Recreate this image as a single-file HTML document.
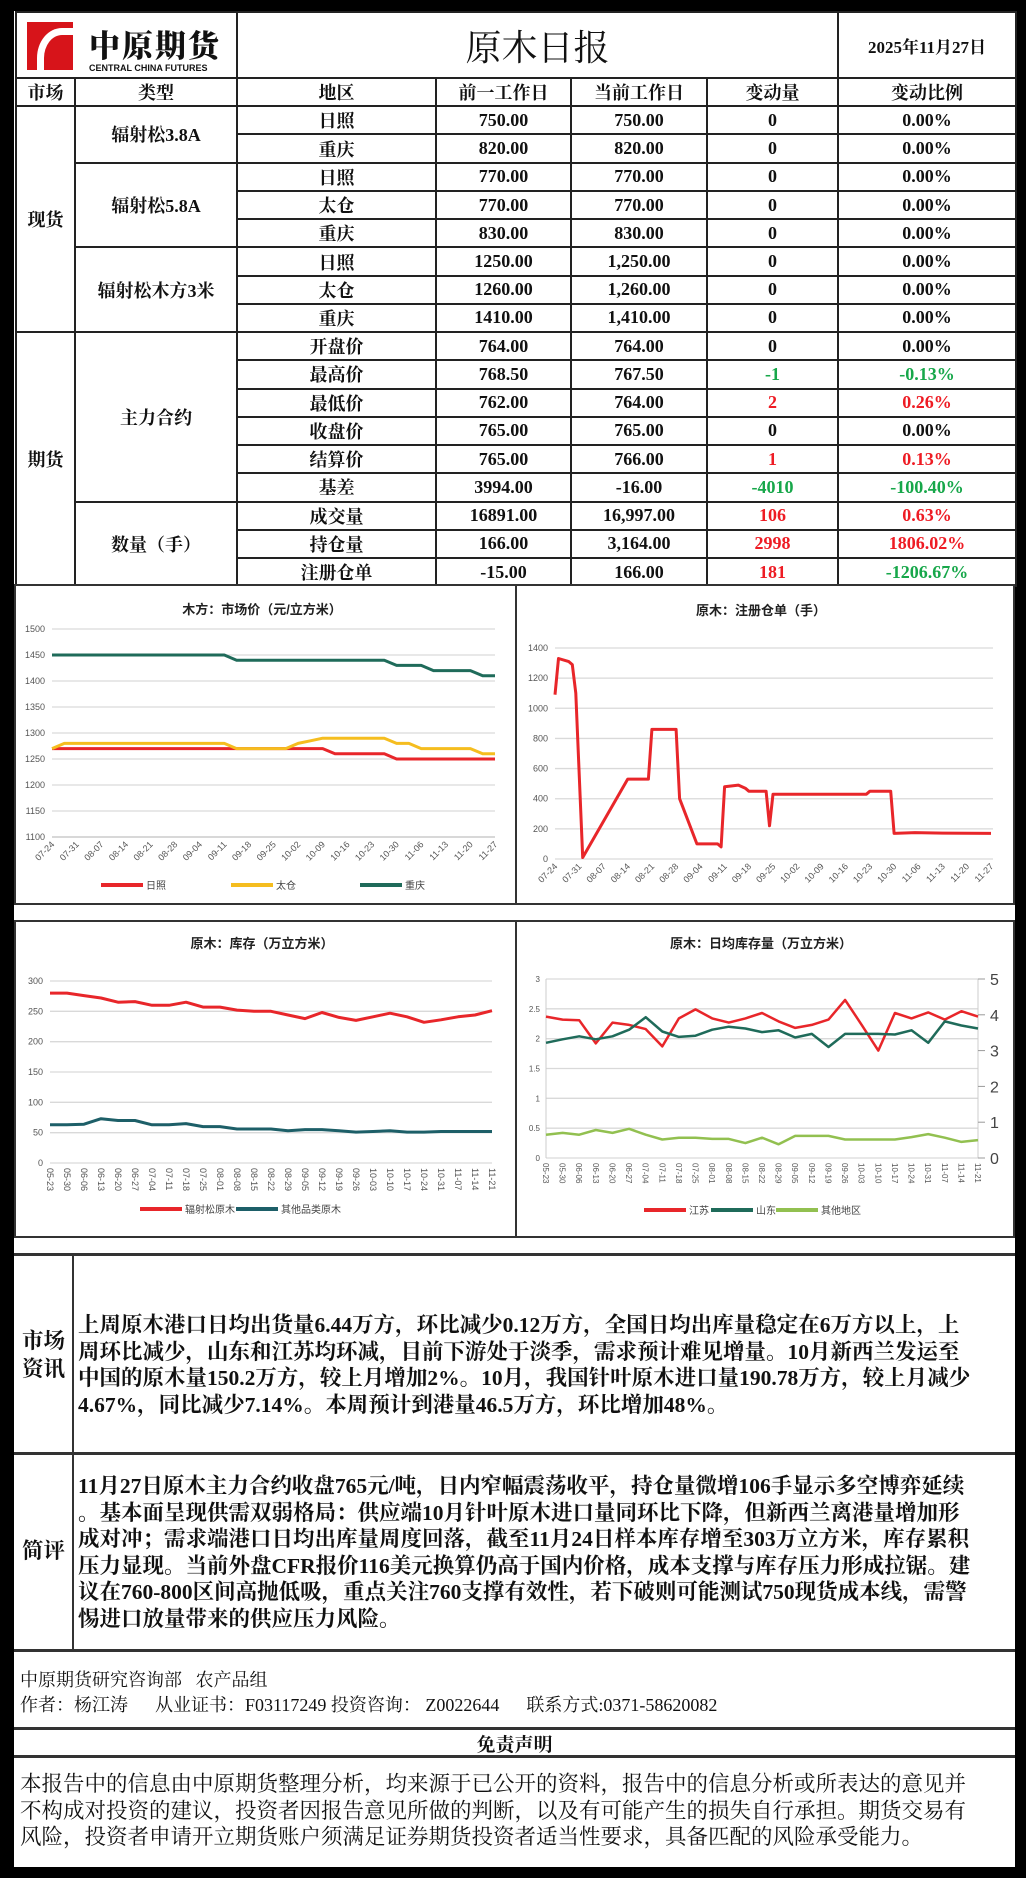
<!DOCTYPE html>
<html><head><meta charset="utf-8">
<style>
*{box-sizing:border-box;margin:0;padding:0}
body{width:1026px;height:1878px;background:#000;position:relative;overflow:hidden;font-family:"Liberation Serif","Noto Serif CJK SC",serif;color:#111}
.abs{position:absolute}
#page{position:absolute;left:14px;top:11px;width:1001px;height:1856px;background:#fff}
table.t{position:absolute;left:15px;top:11px;border-collapse:collapse;table-layout:fixed;width:1000px}
table.t td{border:2px solid #222;text-align:center;font-size:18px;font-weight:bold;height:28.24px;padding:0;white-space:nowrap}
.g{color:#17a74a}.r{color:#ee1c24}
.box{position:absolute;border:2px solid #333;background:#fff}
.txt{font-size:21.5px;line-height:26.5px;white-space:nowrap;font-weight:bold}
.hl{position:absolute;left:14px;width:1001px;height:3px;background:#333}
</style></head><body>
<div id="page"></div>
<table class="t">
<colgroup><col style="width:59px"><col style="width:162px"><col style="width:199px"><col style="width:135px"><col style="width:136px"><col style="width:131px"><col style="width:178px"></colgroup>
<tr style="height:66px"><td colspan="2" style="position:relative">
<div class="abs" style="left:10px;top:9px;width:46px;height:48px;background:#d7141a;overflow:hidden"><div class="abs" style="left:10px;top:6px;width:50px;height:60px;border:7px solid #fff;border-radius:50% 0 0 0;border-right:none;border-bottom:none"></div></div>
<div class="abs" style="left:72px;top:8px;font-size:31px;font-weight:900;letter-spacing:2px;font-family:'Noto Serif CJK SC',serif">中原期货</div>
<div class="abs" style="left:72px;top:50px;font-size:9px;font-weight:bold;font-family:'Liberation Sans',sans-serif">CENTRAL CHINA FUTURES</div>
</td>
<td colspan="4" style="font-size:36px;font-weight:normal">原木日报</td>
<td style="font-size:17px">2025年11月27日</td></tr>
<tr style="height:26px"><td>市场</td><td>类型</td><td>地区</td><td>前一工作日</td><td>当前工作日</td><td>变动量</td><td>变动比例</td></tr>
<tr><td rowspan="8">现货</td><td rowspan="2">辐射松3.8A</td><td>日照</td><td>750.00</td><td>750.00</td><td>0</td><td>0.00%</td></tr>
<tr><td>重庆</td><td>820.00</td><td>820.00</td><td>0</td><td>0.00%</td></tr>
<tr><td rowspan="3">辐射松5.8A</td><td>日照</td><td>770.00</td><td>770.00</td><td>0</td><td>0.00%</td></tr>
<tr><td>太仓</td><td>770.00</td><td>770.00</td><td>0</td><td>0.00%</td></tr>
<tr><td>重庆</td><td>830.00</td><td>830.00</td><td>0</td><td>0.00%</td></tr>
<tr><td rowspan="3">辐射松木方3米</td><td>日照</td><td>1250.00</td><td>1,250.00</td><td>0</td><td>0.00%</td></tr>
<tr><td>太仓</td><td>1260.00</td><td>1,260.00</td><td>0</td><td>0.00%</td></tr>
<tr><td>重庆</td><td>1410.00</td><td>1,410.00</td><td>0</td><td>0.00%</td></tr>
<tr><td rowspan="9">期货</td><td rowspan="6">主力合约</td><td>开盘价</td><td>764.00</td><td>764.00</td><td>0</td><td>0.00%</td></tr>
<tr><td>最高价</td><td>768.50</td><td>767.50</td><td class="g">-1</td><td class="g">-0.13%</td></tr>
<tr><td>最低价</td><td>762.00</td><td>764.00</td><td class="r">2</td><td class="r">0.26%</td></tr>
<tr><td>收盘价</td><td>765.00</td><td>765.00</td><td>0</td><td>0.00%</td></tr>
<tr><td>结算价</td><td>765.00</td><td>766.00</td><td class="r">1</td><td class="r">0.13%</td></tr>
<tr><td>基差</td><td>3994.00</td><td>-16.00</td><td class="g">-4010</td><td class="g">-100.40%</td></tr>
<tr><td rowspan="3">数量（手）</td><td>成交量</td><td>16891.00</td><td>16,997.00</td><td class="r">106</td><td class="r">0.63%</td></tr>
<tr><td>持仓量</td><td>166.00</td><td>3,164.00</td><td class="r">2998</td><td class="r">1806.02%</td></tr>
<tr><td>注册仓单</td><td>-15.00</td><td>166.00</td><td class="r">181</td><td class="g">-1206.67%</td></tr>
</table>

<div class="abs" style="left:14px;top:584px;width:1001px;height:670px;background:#fff"></div>
<div class="box" style="left:14px;top:584px;width:503px;height:321px"></div>
<div class="box" style="left:515px;top:584px;width:500px;height:321px"></div>
<div class="box" style="left:14px;top:920px;width:503px;height:318px"></div>
<div class="box" style="left:515px;top:920px;width:500px;height:318px"></div>

<div class="hl" style="top:1253px"></div>
<div class="abs" style="left:72px;top:1254px;width:2px;height:397px;background:#333"></div>
<div class="abs txt" style="left:22px;top:1327px;line-height:28px">市场<br>资讯</div>
<div class="abs txt" style="left:78px;top:1312px">上周原木港口日均出货量6.44万方，环比减少0.12万方，全国日均出库量稳定在6万方以上，上<br>周环比减少，山东和江苏均环减，目前下游处于淡季，需求预计难见增量。10月新西兰发运至<br>中国的原木量150.2万方，较上月增加2%。10月，我国针叶原木进口量190.78万方，较上月减少<br>4.67%，同比减少7.14%。本周预计到港量46.5万方，环比增加48%。</div>
<div class="hl" style="top:1452px"></div>
<div class="abs txt" style="left:22px;top:1538px">简评</div>
<div class="abs txt" style="left:78px;top:1473px">11月27日原木主力合约收盘765元/吨，日内窄幅震荡收平，持仓量微增106手显示多空博弈延续<br>。基本面呈现供需双弱格局：供应端10月针叶原木进口量同环比下降，但新西兰离港量增加形<br>成对冲；需求端港口日均出库量周度回落，截至11月24日样本库存增至303万立方米，库存累积<br>压力显现。当前外盘CFR报价116美元换算仍高于国内价格，成本支撑与库存压力形成拉锯。建<br>议在760-800区间高抛低吸，重点关注760支撑有效性，若下破则可能测试750现货成本线，需警<br>惕进口放量带来的供应压力风险。</div>
<div class="hl" style="top:1649px"></div>
<div class="abs" style="left:20px;top:1668px;font-size:18px;line-height:25px;white-space:pre">中原期货研究咨询部   农产品组
作者：杨江涛      从业证书：F03117249 投资咨询： Z0022644      联系方式:0371-58620082</div>
<div class="hl" style="top:1727px"></div>
<div class="abs" style="left:14px;width:1001px;top:1730px;text-align:center;font-size:19px;font-weight:bold">免责声明</div>
<div class="hl" style="top:1755px"></div>
<div class="abs txt" style="left:20px;top:1771px;font-weight:normal;font-size:21.5px">本报告中的信息由中原期货整理分析，均来源于已公开的资料，报告中的信息分析或所表达的意见并<br>不构成对投资的建议，投资者因报告意见所做的判断，以及有可能产生的损失自行承担。期货交易有<br>风险，投资者申请开立期货账户须满足证券期货投资者适当性要求，具备匹配的风险承受能力。</div>

<svg id="charts" class="abs" style="left:0;top:0" width="1026" height="1878" font-family="Liberation Sans, Noto Sans CJK SC, sans-serif"></svg>
<script>
// Chart 1: lumber market price
const priceTicks=["07-24","07-31","08-07","08-14","08-21","08-28","09-04","09-11","09-18","09-25","10-02","10-09","10-16","10-23","10-30","11-06","11-13","11-20","11-27"];
const priceYTicks=[1100,1150,1200,1250,1300,1350,1400,1450,1500];
const priceRizhao=[1270,1270,1270,1270,1270,1270,1270,1270,1270,1270,1270,1270,1270,1270,1270,1270,1270,1270,1270,1270,1270,1270,1270,1260,1260,1260,1260,1260,1250,1250,1250,1250,1250,1250,1250,1250,1250];
const priceTaicang=[1270,1280,1280,1280,1280,1280,1280,1280,1280,1280,1280,1280,1280,1280,1280,1270,1270,1270,1270,1270,1280,1285,1290,1290,1290,1290,1290,1290,1280,1280,1270,1270,1270,1270,1270,1260,1260];
const priceChongqing=[1450,1450,1450,1450,1450,1450,1450,1450,1450,1450,1450,1450,1450,1450,1450,1440,1440,1440,1440,1440,1440,1440,1440,1440,1440,1440,1440,1440,1430,1430,1430,1420,1420,1420,1420,1410,1410];
// Chart 2: registered warrants
const wrTicks=priceTicks;
const wrYTicks=[0,200,400,600,800,1000,1200,1400];
const wrDates=["07-24","07-25","07-28","07-29","07-30","08-01","08-14","08-20","08-21","08-28","08-29","09-03","09-09","09-10","09-11","09-15","09-17","09-18","09-23","09-24","09-25","10-22","10-23","10-29","10-30","11-05","11-13","11-27"];
const wrValues=[1090,1330,1310,1290,1100,10,530,530,860,860,400,100,100,80,480,490,470,450,450,220,430,430,450,450,170,175,172,170];
// Chart 3: inventory
const invDates=["05-23","05-30","06-06","06-13","06-20","06-27","07-04","07-11","07-18","07-25","08-01","08-08","08-15","08-22","08-29","09-05","09-12","09-19","09-26","10-03","10-10","10-17","10-24","10-31","11-07","11-14","11-21"];
const invYTicks=[0,50,100,150,200,250,300];
const invRadiata=[280,280,276,272,265,266,260,260,265,257,257,252,250,250,244,238,248,240,235,241,247,241,232,236,241,244,251];
const invOther=[63,63,64,73,70,70,63,63,65,60,60,56,56,56,53,55,55,53,51,52,53,51,51,52,52,52,52];
// Chart 4: daily average outflow
const outDates=invDates;
const outLeftTicks=[0,0.5,1,1.5,2,2.5,3];
const outRightTicks=[0,1,2,3,4,5];
const outJiangsu=[2.37,2.32,2.31,1.92,2.27,2.23,2.16,1.87,2.34,2.49,2.34,2.27,2.34,2.43,2.29,2.18,2.23,2.32,2.65,2.23,1.80,2.43,2.34,2.44,2.32,2.46,2.37];
const outShandong=[1.93,1.99,2.04,1.99,2.04,2.15,2.36,2.12,2.03,2.05,2.15,2.20,2.17,2.11,2.14,2.02,2.08,1.86,2.08,2.08,2.08,2.07,2.14,1.93,2.29,2.22,2.17];
const outOther=[0.39,0.42,0.39,0.47,0.42,0.49,0.39,0.31,0.34,0.34,0.32,0.32,0.25,0.34,0.23,0.37,0.37,0.37,0.31,0.31,0.31,0.31,0.35,0.40,0.34,0.27,0.30];

const NS='http://www.w3.org/2000/svg';
const svg=document.getElementById('charts');
function mk(tag,attrs,txt){const e=document.createElementNS(NS,tag);for(const k in attrs)e.setAttribute(k,attrs[k]);if(txt!==undefined)e.textContent=txt;svg.appendChild(e);return e;}
function lin(d0,d1,r0,r1){return v=>r0+(v-d0)/(d1-d0)*(r1-r0);}
function dayOf(s){const [m,d]=s.split('-').map(Number);const cum=[0,31,59,90,120,151,181,212,243,273,304,334];return cum[m-1]+d;}
function pathOf(xs,ys){return xs.map((x,i)=>(i?'L':'M')+x.toFixed(1)+' '+ys[i].toFixed(1)).join(' ');}
function grid(ticks,y,x0,x1,lx,fs,fmt){ticks.forEach(t=>{const g=mk('line',{x1:x0,x2:x1,y1:y(t),y2:y(t),stroke:'#d9d9d9','stroke-width':1.3});const l=mk('text',{x:lx,y:y(t)+3,'font-size':fs,'text-anchor':'end',fill:'#555'},fmt?fmt(t):t);});}
function title(x,y,s,name){const t=mk('text',{x:x,y:y,'font-size':13,'font-weight':'bold','text-anchor':'middle',fill:'#222'},s);}
function legend(x,y,color,label){const l=mk('line',{x1:x,x2:x+42,y1:y,y2:y,stroke:color,'stroke-width':4});const t=mk('text',{x:x+45,y:y+4,'font-size':10,fill:'#444'},label);}
function series(xs,ys,color,w,name){const p=mk('path',{d:pathOf(xs,ys),fill:'none',stroke:color,'stroke-width':w,'stroke-linejoin':'round'});}
function xlabels(labels,xf,y,rot,fs){labels.forEach((s,i)=>{const x=xf(s,i);const t=mk('text',{x:x,y:y,'font-size':fs,'text-anchor':'end',fill:'#555',transform:`rotate(${rot} ${x} ${y})`},s);});}

// Chart 1
(function(){
 title(262,614,'木方：市场价（元/立方米）','lumber-price-title');
 const y=lin(1100,1500,837,629);const n=priceRizhao.length;const x=i=>52+i*(495-52)/(n-1);
 grid(priceYTicks,y,52,495,45,9);
 const ax=mk('line',{x1:52,x2:495,y1:837,y2:837,stroke:'#bbb'});
 xlabels(priceTicks,(s,i)=>x(i*2)+3,845,-45,9);
 const idx=priceRizhao.map((_,i)=>x(i));
 series(idx,priceRizhao.map(y),'#e8262a',3,'series-rizhao');
 series(idx,priceTaicang.map(y),'#f5bd1f',3,'series-taicang');
 series(idx,priceChongqing.map(y),'#1f6b5a',3,'series-chongqing');
 legend(101,885,'#e8262a','日照');legend(231,885,'#f5bd1f','太仓');legend(360,885,'#1f6b5a','重庆');
})();
// Chart 2
(function(){
 title(761,615,'原木：注册仓单（手）','warrant-title');
 const y=lin(0,1400,859,648);const d0=dayOf('07-24'),d1=dayOf('11-27');const x=lin(d0,d1,555,991);
 grid(wrYTicks,y,555,993,548,9);
 xlabels(wrTicks,(s)=>x(dayOf(s))+3,867,-45,9);
 series(wrDates.map(s=>x(dayOf(s))),wrValues.map(y),'#e8262a',3,'series-warrants');
})();
// Chart 3
(function(){
 title(262,948,'原木：库存（万立方米）','inventory-title');
 const y=lin(0,300,1163,981);const n=invDates.length;const x=i=>50+i*(492-50)/(n-1);
 grid(invYTicks,y,50,492,43,9);
 invDates.forEach((s,i)=>{const t=mk('text',{x:x(i)-3,y:1168,'font-size':9,fill:'#555',transform:`rotate(90 ${x(i)-3} 1168)`},s);});
 const xs=invDates.map((_,i)=>x(i));
 series(xs,invRadiata.map(y),'#e8262a',3,'series-radiata');
 series(xs,invOther.map(y),'#1d5f68',3,'series-other-species');
 legend(140,1209,'#e8262a','辐射松原木');legend(236,1209,'#1d5f68','其他品类原木');
})();
// Chart 4
(function(){
 title(761,948,'原木：日均库存量（万立方米）','outflow-title');
 const y=lin(0,3,1158,979);const yr=lin(0,5,1158,979);const n=outDates.length;const x=i=>546+i*(978-546)/(n-1);
 grid(outLeftTicks,y,546,978,540,8);
 const ra=mk('line',{x1:978,x2:978,y1:979,y2:1158,stroke:'#ccc'});
 const la=mk('line',{x1:546,x2:546,y1:979,y2:1158,stroke:'#ccc'});
 outRightTicks.forEach(t=>{const k=mk('line',{x1:978,x2:985,y1:yr(t),y2:yr(t),stroke:'#999'});const l=mk('text',{x:990,y:yr(t)+6,'font-size':16,fill:'#444'},t);});
 outDates.forEach((s,i)=>{const t=mk('text',{x:x(i)-3,y:1163,'font-size':8,fill:'#555',transform:`rotate(90 ${x(i)-3} 1163)`},s);});
 const xs=outDates.map((_,i)=>x(i));
 series(xs,outJiangsu.map(y),'#e8262a',2.5,'series-jiangsu');
 series(xs,outShandong.map(y),'#1f6b5a',2.5,'series-shandong');
 series(xs,outOther.map(y),'#92c050',2.5,'series-other-regions');
 legend(644,1210,'#e8262a','江苏');legend(711,1210,'#1f6b5a','山东');legend(776,1210,'#92c050','其他地区');
})();
</script>
</body></html>
